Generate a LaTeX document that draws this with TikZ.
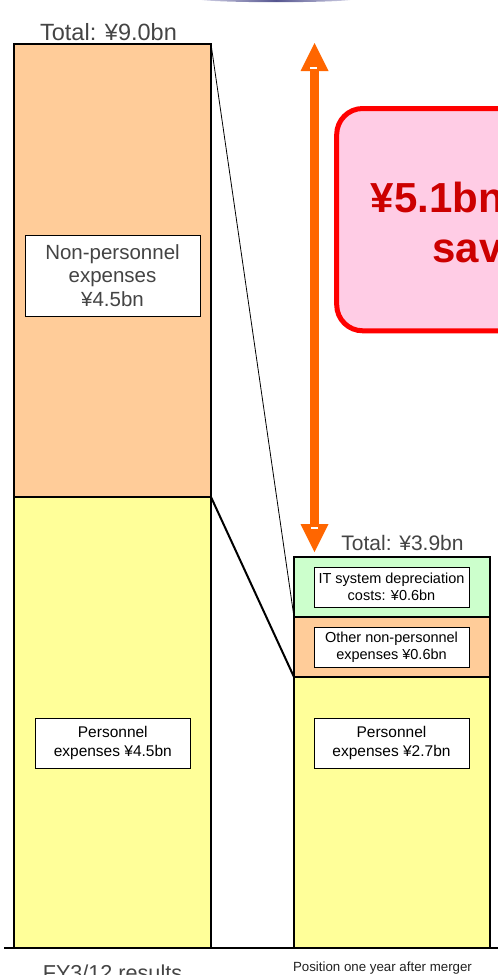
\documentclass[tikz,border=0pt]{standalone}
\usepackage{fontspec}
\setmainfont{Liberation Sans}
\usetikzlibrary{arrows.meta}
\definecolor{npfill}{HTML}{FFCC99}
\definecolor{pfill}{HTML}{FFFF99}
\definecolor{itfill}{HTML}{CCFFCC}
\definecolor{savefill}{HTML}{FFCCE5}
\definecolor{saveline}{HTML}{FF0000}
\definecolor{savetxt}{HTML}{CC0000}
\definecolor{arrowc}{HTML}{FF6600}
\definecolor{graytxt}{HTML}{444444}
\definecolor{capc}{HTML}{55558F}
\definecolor{capfade}{HTML}{D8D8EA}
\begin{document}
\begin{tikzpicture}[x=1pt,y=-1pt,
  bar/.style={draw=black,line width=1.8pt,outer sep=0pt,inner sep=0pt,anchor=north west},
  label/.style={draw=black,line width=0.8pt,fill=white,outer sep=0pt,inner sep=0pt,align=center},
  total/.style={text=graytxt,anchor=base,inner sep=0pt}]
\useasboundingbox (0,0) rectangle (498,975);
\clip (0,0) rectangle (498,975);

% title cap peeking in at the top edge
\shade[left color=capfade,right color=capfade,middle color=capc] (276,-1) ellipse [x radius=78,y radius=3.2];

% FY3/12 bar
\node[bar,fill=npfill,minimum width=197,minimum height=453] (lnp) at (14,44) {};
\node[bar,fill=pfill,minimum width=197,minimum height=451] (lp) at (14,497) {};

% post-merger bar
\node[bar,fill=itfill,minimum width=196,minimum height=60] (rit) at (294,557) {};
\node[bar,fill=npfill,minimum width=196,minimum height=60] (rnp) at (294,617) {};
\node[bar,fill=pfill,minimum width=196,minimum height=271] (rp) at (294,677) {};

% guide lines between the bars
\draw[line width=0.8pt] (lnp.north east) -- (rnp.north west);
\draw[line width=2pt] (lp.north east) -- (rp.north west);

% axis
\coordinate (axisL) at (4,948);
\coordinate (axisR) at (498,948);
\draw[line width=2pt] (axisL) -- (axisR);

% totals
\node[total,font=\fontsize{23.5}{28}\selectfont] (tleft) at (108.5,40.7) {Total: ¥9.0bn};
\node[total,font=\fontsize{21}{25}\selectfont] (tright) at (402.5,550.7) {Total: ¥3.9bn};

% segment labels
\node[label,text=graytxt,minimum width=175,minimum height=81,font=\fontsize{20.5}{23.4}\selectfont] (lnpl) at (112.5,275.5) {Non-personnel\\expenses\\¥4.5bn};
\node[label,minimum width=155.7,minimum height=50,font=\fontsize{15.5}{19}\selectfont] (lpl) at (112.8,743.3) {Personnel\\expenses ¥4.5bn};
\node[label,minimum width=155,minimum height=40,font=\fontsize{14.5}{17.5}\selectfont] (ritl) at (391.5,587) {IT system depreciation\\costs: ¥0.6bn};
\node[label,minimum width=155,minimum height=40,font=\fontsize{14.5}{17.5}\selectfont] (rnpl) at (391.5,647) {Other non-personnel\\expenses ¥0.6bn};
\node[label,minimum width=155,minimum height=50,font=\fontsize{15.5}{19}\selectfont] (rpl) at (391.5,743) {Personnel\\expenses ¥2.7bn};

% savings arrow
\coordinate (atop) at (314.5,43);
\coordinate (abot) at (314.5,552);
\draw[arrowc,line width=9pt,
  {Triangle[width=28pt,length=28pt,line width=0pt]}-{Triangle[width=28pt,length=28pt,line width=0pt]}]
  (atop) -- (abot);
\fill[white] (310,66.5) rectangle (317,69.3);
\fill[white] (311,526.5) rectangle (318,529);

% savings callout
\node[draw=saveline,fill=savefill,line width=5pt,rounded corners=26pt,outer sep=0pt,inner sep=0pt,
  minimum width=348,minimum height=222.3,anchor=north west] (save) at (336.7,108.5) {};
\node[text=savetxt,font=\fontsize{42}{50}\selectfont\bfseries,align=center,inner sep=0pt] (savet) at (510.7,226.5) {¥5.1bn in cost\\savings};

% period labels
\node[total,font=\fontsize{21.6}{26}\selectfont] (pleft) at (112.5,980.5) {FY3/12 results};
\node[anchor=base,inner sep=0pt,text=black!87,font=\fontsize{13.3}{16}\selectfont] (pright) at (382.5,971.5) {Position one year after merger};
\end{tikzpicture}
\end{document}
